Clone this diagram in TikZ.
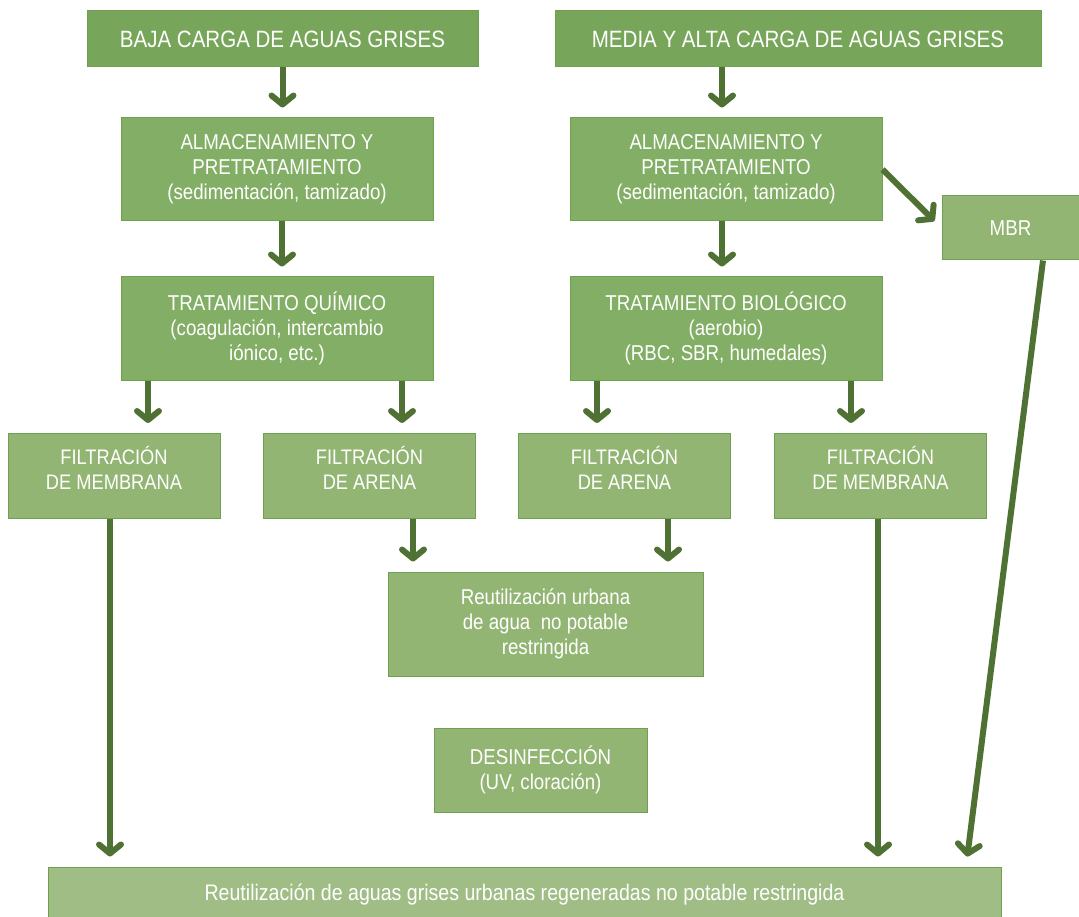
\documentclass[tikz,border=0pt]{standalone}
\usepackage{fontspec}
\setmainfont[FakeStretch=0.87]{Liberation Sans}
\usetikzlibrary{arrows.meta,calc}
\definecolor{cA}{HTML}{77A55A}
\definecolor{cB}{HTML}{82AE65}
\definecolor{cC}{HTML}{93B574}
\definecolor{cD}{HTML}{9FBD85}
\definecolor{cE}{HTML}{6FA04F}
\definecolor{arrc}{HTML}{4F7234}
\tikzset{
  box/.style={draw=cE, line width=1pt, text=white, align=center, inner sep=0pt,
    font=\fontsize{21.5}{25}\selectfont},
  topbox/.style={box, fill=cA, font=\fontsize{23.6}{30}\selectfont, minimum height=56pt},
  midbox/.style={box, fill=cB, minimum width=312pt, minimum height=103pt},
  filtbox/.style={box, fill=cC, minimum width=212pt, minimum height=85pt},
  lightbox/.style={box, fill=cC},
  lbl/.style={text=white, align=center, font=\fontsize{21}{25.5}\selectfont, yshift=8pt},
  arr/.style={draw=arrc, line width=6pt, -{Straight Barb[length=9pt,width=22pt,round]}, shorten >=10pt},
}
\begin{document}
\begin{tikzpicture}[x=1pt,y=-1pt]
\useasboundingbox (0,0) rectangle (1079,917);
% top
\node[topbox, minimum width=391pt] (topL) at (282.5,39) {BAJA CARGA DE AGUAS GRISES};
\node[topbox, minimum width=486pt] (topR) at (798,39) {MEDIA Y ALTA CARGA DE AGUAS GRISES};
% second row
\node[midbox] (almL) at (277,169.5) {ALMACENAMIENTO Y\\PRETRATAMIENTO\\(sedimentación, tamizado)};
\node[midbox] (almR) at (726,169.5) {ALMACENAMIENTO Y\\PRETRATAMIENTO\\(sedimentación, tamizado)};
\node[lightbox, minimum width=137pt, minimum height=64pt] (mbr) at (1010.5,228) {MBR};
% third row
\node[midbox] (quim) at (277,328.5) {TRATAMIENTO QUÍMICO\\(coagulación, intercambio\\iónico, etc.)};
\node[midbox] (bio) at (726,328.5) {TRATAMIENTO BIOLÓGICO\\(aerobio)\\(RBC, SBR, humedales)};
% filtrations
\node[filtbox, label={[lbl]center:FILTRACIÓN\\DE MEMBRANA}] (fmL) at (114,476) {};
\node[filtbox, label={[lbl]center:FILTRACIÓN\\DE ARENA}] (faL) at (369.5,476) {};
\node[filtbox, label={[lbl]center:FILTRACIÓN\\DE ARENA}] (faR) at (624.5,476) {};
\node[filtbox, label={[lbl]center:FILTRACIÓN\\DE MEMBRANA}] (fmR) at (880.5,476) {};
% reuse
\node[lightbox, minimum width=315pt, minimum height=104pt] (reut) at (545.5,624) {Reutilización urbana\\de agua\ \ no potable\\restringida};
\node[lightbox, minimum width=213pt, minimum height=84pt] (des) at (540.5,770) {DESINFECCIÓN\\(UV, cloración)};
\node[box, fill=cD, minimum width=953pt, minimum height=56pt, font=\fontsize{22.5}{26}\selectfont] (bot) at (524.5,895) {\raisebox{2pt}{Reutilización de aguas grises urbanas regeneradas no potable restringida}};
% arrows
\draw[arr] (topL.south) -- (topL.south |- almL.north);
\draw[arr] ($(topR.south)+(-76,0)$) -- ($(almR.north)+(-4,0)$);
\draw[arr] ($(almL.south)+(5,0)$) -- ($(quim.north)+(5,0)$);
\draw[arr] ($(almR.south)+(-4,0)$) -- ($(bio.north)+(-4,0)$);
\draw[arr] (almR.east) -- ($(mbr.west)+(0,0)$);
\draw[arr] ($(quim.south)+(-129,0)$) -- ($(fmL.north)+(34,0)$);
\draw[arr] ($(quim.south)+(125,0)$) -- ($(faL.north)+(32.5,0)$);
\draw[arr] ($(bio.south)+(-129,0)$) -- ($(faR.north)+(-27.5,0)$);
\draw[arr] ($(bio.south)+(125,0)$) -- ($(fmR.north)+(-29.5,0)$);
\draw[arr] ($(faL.south)+(43.5,0)$) -- ($(reut.north)+(-132.5,0)$);
\draw[arr] ($(faR.south)+(43.5,0)$) -- ($(reut.north)+(122.5,0)$);
\draw[arr] ($(fmL.south)+(-4,0)$) -- ($(bot.north)+(-414.5,0)$);
\draw[arr] ($(fmR.south)+(-2.5,0)$) -- ($(bot.north)+(353.5,0)$);
\draw[arr] ($(mbr.south)+(32.5,0)$) -- ($(bot.north)+(441.5,0)$);
\end{tikzpicture}
\end{document}
